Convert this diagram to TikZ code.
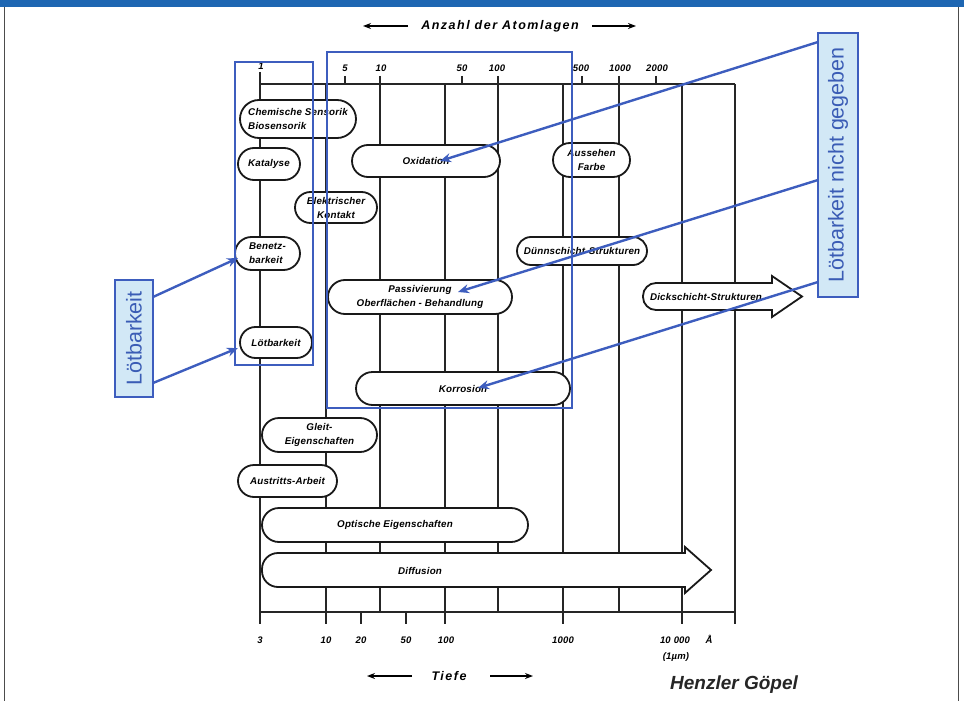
\documentclass[tikz,border=0pt]{standalone}
\usepackage{fontspec}
\setmainfont{Liberation Sans}
\newfontfamily\draftfont[LetterSpace=2]{Liberation Sans}
\newfontfamily\titlefont[LetterSpace=12]{Liberation Sans}
\usetikzlibrary{shapes.misc,arrows.meta}
\definecolor{barblue}{HTML}{1E66B2}
\definecolor{markblue}{HTML}{3D5DBE}
\definecolor{boxfill}{HTML}{D2E8F6}
\definecolor{boxtext}{HTML}{3A5CB5}
\begin{document}
\begin{tikzpicture}[x=1pt,y=-1pt,
  gridline/.style={line width=1.4pt,black!85},
  dtext/.style={font=\draftfont\fontsize{9.8}{14}\selectfont\bfseries\itshape},
  pill/.style={rounded rectangle, draw=black!90, line width=1.8pt, fill=white, inner sep=0pt, dtext, align=center},
  shapeline/.style={draw=black!90, line width=1.8pt, fill=white},
  axlabel/.style={font=\draftfont\fontsize{9.5}{10}\selectfont\bfseries\itshape, inner sep=0pt},
  bluebox/.style={draw=markblue, line width=2.6pt},
  tagbox/.style={draw=markblue, line width=1.6pt, fill=boxfill, text=boxtext, font=\fontsize{21.5}{23}\selectfont, rotate=90, inner sep=0pt},
  bluearrow/.style={draw=markblue, line width=2.4pt, -{Stealth[length=11pt,width=9pt]}},
  dirarrow/.style={line width=1.6pt, -{Stealth[length=8pt,width=6pt]}}]
\useasboundingbox (0,0) rectangle (964,701);
% frame
\fill[barblue] (0,0) rectangle (964,7);
\draw[black!70, line width=0.8pt] (4,7) -- (4,701);
\draw[black!70, line width=0.8pt] (958,7) -- (958,701);
% grid
\foreach \gx in {260,326,380,445,498,563,619,682,735}
  \draw[gridline] (\gx,84) -- (\gx,612);
\draw[gridline] (260,84) -- (735,84);
\draw[gridline] (260,612) -- (735,612);
\foreach \gx in {260,326,361,406,445,563,682,735}
  \draw[gridline] (\gx,612) -- (\gx,624);
\draw[gridline] (260,72) -- (260,84);
\foreach \gx in {345,380,462,498,582,619,656}
  \draw[gridline] (\gx,76) -- (\gx,84);
% top axis labels
\node[axlabel] (t1) at (261,66) {1};
\node[axlabel] (t5) at (345,68) {5};
\node[axlabel] (t10) at (381,68) {10};
\node[axlabel] (t50) at (462,68) {50};
\node[axlabel] (t100) at (497,68) {100};
\node[axlabel] (t500) at (581,68) {500};
\node[axlabel] (t1000) at (620,68) {1000};
\node[axlabel] (t2000) at (657,68) {2000};
% bottom axis labels
\node[axlabel] (b3) at (260,640) {3};
\node[axlabel] (b10) at (326,640) {10};
\node[axlabel] (b20) at (361,640) {20};
\node[axlabel] (b50) at (406,640) {50};
\node[axlabel] (b100) at (446,640) {100};
\node[axlabel] (b1000) at (563,640) {1000};
\node[axlabel] (b10000) at (675,640) {10\hspace{3pt}000};
\node[axlabel] (bA) at (709,639) {Å};
\node[axlabel] (bum) at (676,657) {(1µm)};
% titles
\node[font=\titlefont\fontsize{12.5}{14}\selectfont\bfseries\itshape] (ttop) at (500,26) {Anzahl der Atomlagen};
\coordinate (tl1) at (408,26); \coordinate (tl2) at (363,26);
\coordinate (tr1) at (592,26); \coordinate (tr2) at (636,26);
\draw[dirarrow] (tl1) -- (tl2);
\draw[dirarrow] (tr1) -- (tr2);
\node[font=\titlefont\fontsize{12.5}{14}\selectfont\bfseries\itshape] (tief) at (449,676) {Tiefe};
\coordinate (bl1) at (412,676); \coordinate (bl2) at (367,676);
\coordinate (br1) at (490,676); \coordinate (br2) at (533,676);
\draw[dirarrow] (bl1) -- (bl2);
\draw[dirarrow] (br1) -- (br2);
\node[font=\fontsize{19}{21}\selectfont\bfseries\itshape, text=black!85] (author) at (734,685) {Henzler Göpel};
% nodes
\node[pill, align=left, minimum width=116pt, minimum height=38pt] (chem) at (298,119) {Chemische Sensorik\\Biosensorik};
\node[pill, minimum width=62pt, minimum height=32pt] (kat) at (269,164) {Katalyse};
\node[pill, minimum width=82pt, minimum height=31pt] (elek) at (336,207.5) {Elektrischer\\Kontakt};
\node[pill, minimum width=148pt, minimum height=32pt] (oxid) at (426,161) {Oxidation};
\node[pill, minimum width=77pt, minimum height=34pt] (auss) at (591.5,160) {Aussehen\\Farbe};
\node[pill, align=left, minimum width=65pt, minimum height=33pt] (benetz) at (267.5,253.5) {Benetz-\\barkeit};
\node[pill, minimum width=130pt, minimum height=28pt] (duenn) at (582,251) {Dünnschicht-Strukturen};
\node[pill, minimum width=184pt, minimum height=34pt] (pass) at (420,297) {Passivierung\\Oberflächen - Behandlung};
\node[pill, minimum width=72pt, minimum height=31pt] (loet) at (276,342.5) {Lötbarkeit};
\node[pill, minimum width=214pt, minimum height=33pt] (korr) at (463,388.5) {Korrosion};
\node[pill, minimum width=115pt, minimum height=34pt] (gleit) at (319.5,435) {Gleit-\\Eigenschaften};
\node[pill, minimum width=99pt, minimum height=32pt] (austr) at (287.5,481) {Austritts-Arbeit};
\node[pill, minimum width=266pt, minimum height=34pt] (opt) at (395,525) {Optische Eigenschaften};
% arrow-shaped nodes
\draw[shapeline] (772,283) [rounded corners=13pt] -- (643,283) -- (643,310) [sharp corners] -- (772,310) -- (772,317) -- (802,296.5) -- (772,276) -- cycle;
\node[dtext] (dick) at (706,296.5) {Dickschicht-Strukturen};
\draw[shapeline] (685,553) [rounded corners=16pt] -- (262,553) -- (262,587) [sharp corners] -- (685,587) -- (685,593) -- (711,570) -- (685,547) -- cycle;
\node[dtext] (diff) at (420,571) {Diffusion};
% blue overlay
\draw[bluebox] (235,62) rectangle (313,365);
\draw[bluebox] (327,52) rectangle (572,408);
\node[tagbox, minimum width=117pt, minimum height=38pt] (tagL) at (134,338.5) {Lötbarkeit};
\node[tagbox, minimum width=264pt, minimum height=40pt] (tagR) at (838,165) {Lötbarkeit nicht gegeben};
\coordinate (sL1) at (153,297);
\coordinate (sL2) at (153,383);
\coordinate (eL1) at (238,258);
\coordinate (eL2) at (238,348);
\coordinate (sR1) at (818,42);
\coordinate (sR2) at (818,180);
\coordinate (sR3) at (818,282);
\coordinate (eR1) at (440,161);
\coordinate (eR2) at (458,292);
\coordinate (eR3) at (478,388);
\draw[bluearrow] (sL1) -- (eL1);
\draw[bluearrow] (sL2) -- (eL2);
\draw[bluearrow] (sR1) -- (eR1);
\draw[bluearrow] (sR2) -- (eR2);
\draw[bluearrow] (sR3) -- (eR3);
\end{tikzpicture}
\end{document}
